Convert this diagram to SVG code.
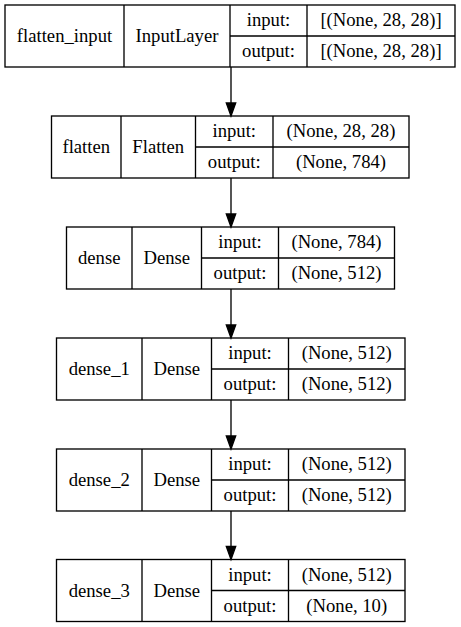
<svg xmlns="http://www.w3.org/2000/svg" width="461" height="627" viewBox="0 0 461 627">
<defs>
<style>
rect.n, line.d { fill: none; stroke: #000; stroke-width: 1.33; }
text { font-family: "Liberation Serif", "Times New Roman", serif; font-size: 18.67px; text-anchor: middle; fill: #000; }
.conn line { stroke: #000; stroke-width: 1.33; }
.conn polygon { fill: #000; stroke: #000; stroke-width: 1.33; }
</style>
</defs>
<rect x="0" y="0" width="461" height="627" fill="#fff" stroke="none"/>

<g id="flatten_input">
<rect class="n" x="5" y="5" width="450" height="62"/>
<line class="d" x1="124" y1="5" x2="124" y2="67"/>
<line class="d" x1="230" y1="5" x2="230" y2="67"/>
<line class="d" x1="307" y1="5" x2="307" y2="67"/>
<line class="d" x1="230" y1="36" x2="455" y2="36"/>
<text x="64.5" y="42">flatten_input</text>
<text x="177" y="42">InputLayer</text>
<text x="268.5" y="26">input:</text>
<text x="381" y="26">[(None, 28, 28)]</text>
<text x="268.5" y="57">output:</text>
<text x="381" y="57">[(None, 28, 28)]</text>
</g>

<g id="flatten">
<rect class="n" x="51.5" y="116" width="357.5" height="62"/>
<line class="d" x1="121" y1="116" x2="121" y2="178"/>
<line class="d" x1="195.5" y1="116" x2="195.5" y2="178"/>
<line class="d" x1="273" y1="116" x2="273" y2="178"/>
<line class="d" x1="195.5" y1="147" x2="409" y2="147"/>
<text x="86.25" y="153">flatten</text>
<text x="158.25" y="153">Flatten</text>
<text x="234.25" y="137">input:</text>
<text x="341" y="137">(None, 28, 28)</text>
<text x="234.25" y="168">output:</text>
<text x="341" y="168">(None, 784)</text>
</g>

<g id="dense">
<rect class="n" x="66.5" y="227" width="328" height="62"/>
<line class="d" x1="132" y1="227" x2="132" y2="289"/>
<line class="d" x1="201.5" y1="227" x2="201.5" y2="289"/>
<line class="d" x1="278.5" y1="227" x2="278.5" y2="289"/>
<line class="d" x1="201.5" y1="258" x2="394.5" y2="258"/>
<text x="99.25" y="264">dense</text>
<text x="166.75" y="264">Dense</text>
<text x="240" y="248">input:</text>
<text x="336.5" y="248">(None, 784)</text>
<text x="240" y="279">output:</text>
<text x="336.5" y="279">(None, 512)</text>
</g>

<g id="dense_1">
<rect class="n" x="56.5" y="338" width="348.5" height="62"/>
<line class="d" x1="142" y1="338" x2="142" y2="400"/>
<line class="d" x1="211.5" y1="338" x2="211.5" y2="400"/>
<line class="d" x1="288.5" y1="338" x2="288.5" y2="400"/>
<line class="d" x1="211.5" y1="369" x2="405" y2="369"/>
<text x="99.25" y="375">dense_1</text>
<text x="176.75" y="375">Dense</text>
<text x="250" y="359">input:</text>
<text x="346.75" y="359">(None, 512)</text>
<text x="250" y="390">output:</text>
<text x="346.75" y="390">(None, 512)</text>
</g>

<g id="dense_2">
<rect class="n" x="56.5" y="449" width="348.5" height="62"/>
<line class="d" x1="142" y1="449" x2="142" y2="511"/>
<line class="d" x1="211.5" y1="449" x2="211.5" y2="511"/>
<line class="d" x1="288.5" y1="449" x2="288.5" y2="511"/>
<line class="d" x1="211.5" y1="480" x2="405" y2="480"/>
<text x="99.25" y="486">dense_2</text>
<text x="176.75" y="486">Dense</text>
<text x="250" y="470">input:</text>
<text x="346.75" y="470">(None, 512)</text>
<text x="250" y="501">output:</text>
<text x="346.75" y="501">(None, 512)</text>
</g>

<g id="dense_3">
<rect class="n" x="56.5" y="559.5" width="348.5" height="62"/>
<line class="d" x1="142" y1="559.5" x2="142" y2="621.5"/>
<line class="d" x1="211.5" y1="559.5" x2="211.5" y2="621.5"/>
<line class="d" x1="288.5" y1="559.5" x2="288.5" y2="621.5"/>
<line class="d" x1="211.5" y1="590.5" x2="405" y2="590.5"/>
<text x="99.25" y="596.5">dense_3</text>
<text x="176.75" y="596.5">Dense</text>
<text x="250" y="580.5">input:</text>
<text x="346.75" y="580.5">(None, 512)</text>
<text x="250" y="611.5">output:</text>
<text x="346.75" y="611.5">(None, 10)</text>
</g>

<g id="connectors" class="conn">
<line x1="231" y1="67" x2="231" y2="103"/>
<polygon points="226.3,103 235.7,103 231,116"/>
<line x1="231" y1="178" x2="231" y2="214"/>
<polygon points="226.3,214 235.7,214 231,227"/>
<line x1="231" y1="289" x2="231" y2="325"/>
<polygon points="226.3,325 235.7,325 231,338"/>
<line x1="231" y1="400" x2="231" y2="436"/>
<polygon points="226.3,436 235.7,436 231,449"/>
<line x1="231" y1="511" x2="231" y2="546.5"/>
<polygon points="226.3,546.5 235.7,546.5 231,559.5"/>
</g>
</svg>
